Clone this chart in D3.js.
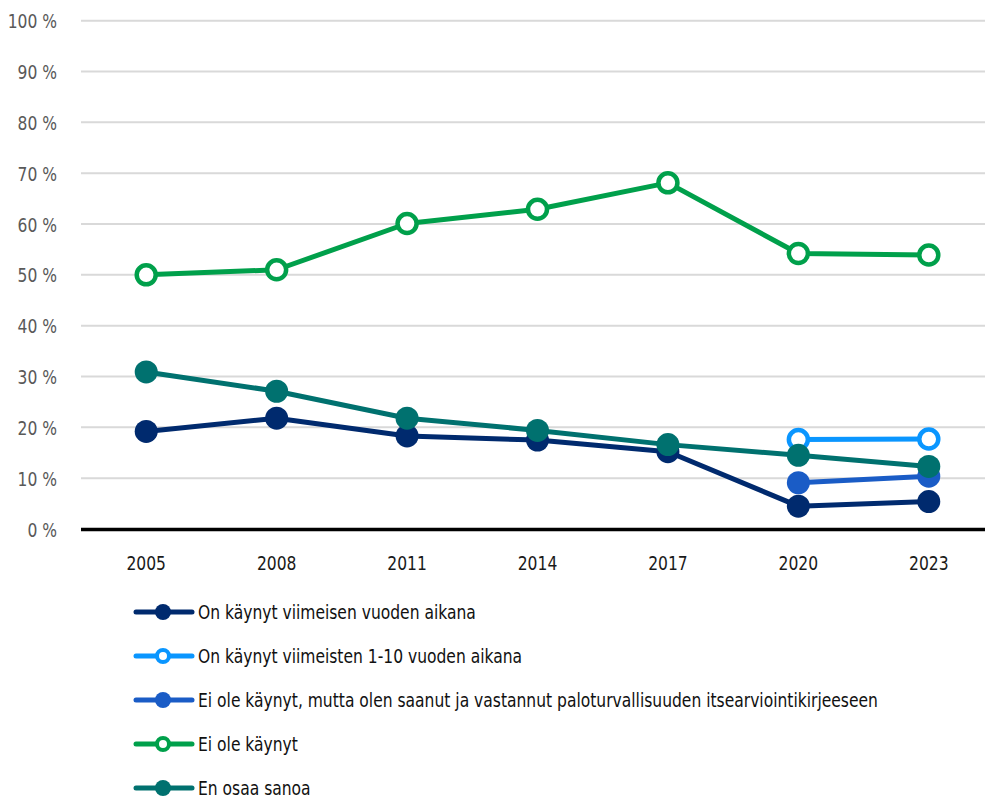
<!DOCTYPE html>
<html>
<head>
<meta charset="utf-8">
<script src="https://cdnjs.cloudflare.com/ajax/libs/d3/7.8.5/d3.min.js"></script>
<style>
  body { margin: 0; background: #fff; }
  svg text { font-family: "DejaVu Sans", sans-serif; font-stretch: condensed; }
</style>
</head>
<body>
<div class="chart-container"></div>
<script>
var w = 985;
var h = 799;
var squeeze = "scale(0.864,1)"; // narrow the text a bit more, the original font is condensed

var years = ["2005", "2008", "2011", "2014", "2017", "2020", "2023"];
var yTicks = [0, 10, 20, 30, 40, 50, 60, 70, 80, 90, 100];

// values in %, null = not asked that year
var viimeisenVuoden = [19.2, 21.8, 18.3, 17.5, 15.2, 4.5, 5.4];
var viimeisten1to10 = [null, null, null, null, null, 17.6, 17.7];
var itsearviointi   = [null, null, null, null, null, 9.1, 10.4];
var eiOleKaynyt     = [50.0, 51.0, 60.1, 62.9, 68.1, 54.2, 53.9];
var enOsaaSanoa     = [30.9, 27.1, 21.8, 19.4, 16.6, 14.5, 12.3];

var seriesNames = [
  "On käynyt viimeisen vuoden aikana",
  "On käynyt viimeisten 1-10 vuoden aikana",
  "Ei ole käynyt, mutta olen saanut ja vastannut paloturvallisuuden itsearviointikirjeeseen",
  "Ei ole käynyt",
  "En osaa sanoa"
];
var seriesColors = ["#002a6e", "#0a96ff", "#1a5cc6", "#00a04b", "#00716f"];
var seriesHollow = [false, true, false, true, false];

var series = [viimeisenVuoden, viimeisten1to10, itsearviointi, eiOleKaynyt, enOsaaSanoa].map(function(vals, i) {
  return {
    name: seriesNames[i],
    color: seriesColors[i],
    hollow: seriesHollow[i],
    values: vals.map(function(v, j) { return { year: years[j], value: v }; })
  };
});

// drawing order: green, light blue, mid blue, navy, teal on top
var drawOrder = [3, 1, 2, 0, 4];

var plotLeft = 81, plotRight = 994, plotTop = 20.7, plotBottom = 529;

var xScale = d3.scaleBand()
  .domain(years)
  .range([plotLeft, plotRight]);

var yScale = d3.scaleLinear()
  .domain([0, 100])
  .range([plotBottom, plotTop]);

var svg = d3.select(".chart-container")
  .append("svg")
  .attr("width", w)
  .attr("height", h);

// gridlines
svg.append("g")
  .selectAll("line")
  .data(yTicks.filter(function(d) { return d > 0; }))
  .enter()
  .append("line")
  .attr("x1", plotLeft)
  .attr("x2", w)
  .attr("y1", function(d) { return yScale(d); })
  .attr("y2", function(d) { return yScale(d); })
  .attr("stroke", "#d9d9d9")
  .attr("stroke-width", 2);

// y axis labels
var yAxis = d3.axisLeft(yScale)
  .tickValues(yTicks)
  .tickSize(0)
  .tickPadding(0)
  .tickFormat(function(d) { return d + " %"; });

svg.append("g")
  .attr("transform", "translate(" + 57 + ",0)")
  .call(yAxis)
  .call(function(g) { g.select(".domain").remove(); })
  .selectAll("text")
    .attr("fill", "#595959")
    .attr("font-size", 20)
    .attr("dy", "0.35em")
    .attr("transform", squeeze);

// x axis labels
var xAxis = d3.axisBottom(xScale).tickSize(0).tickPadding(0);
svg.append("g")
  .attr("transform", "translate(0," + 570 + ")")
  .call(xAxis)
  .call(function(g) { g.select(".domain").remove(); })
  .selectAll("text")
    .attr("fill", "#1a1a1a")
    .attr("font-size", 20)
    .attr("dy", "0em")
    .attr("transform", squeeze);

// zero line
svg.append("line")
  .attr("x1", plotLeft)
  .attr("x2", w)
  .attr("y1", yScale(0) + 0.5)
  .attr("y2", yScale(0) + 0.5)
  .attr("stroke", "#000")
  .attr("stroke-width", 3.5);

var line = d3.line()
  .defined(function(d) { return d.value !== null; })
  .x(function(d) { return xScale(d.year) + xScale.bandwidth() / 2; })
  .y(function(d) { return yScale(d.value); });

drawOrder.forEach(function(i) {
  var s = series[i];
  var g = svg.append("g");
  g.append("path")
    .datum(s.values)
    .attr("fill", "none")
    .attr("stroke", s.color)
    .attr("stroke-width", 5)
    .attr("stroke-linejoin", "round")
    .attr("d", line);
  g.selectAll("circle")
    .data(s.values.filter(function(d) { return d.value !== null; }))
    .enter()
    .append("circle")
    .attr("cx", function(d) { return xScale(d.year) + xScale.bandwidth() / 2; })
    .attr("cy", function(d) { return yScale(d.value); })
    .attr("r", s.hollow ? 9.5 : 11.5)
    .attr("fill", s.hollow ? "#fff" : s.color)
    .attr("stroke", s.hollow ? s.color : "none")
    .attr("stroke-width", s.hollow ? 4.5 : 0);
});

// legend
var legend = svg.append("g")
  .selectAll("g")
  .data(series)
  .enter()
  .append("g")
  .attr("transform", function(d, i) { return "translate(136," + (612 + i * 44) + ")"; });

legend.append("line")
  .attr("x1", 0)
  .attr("x2", 56)
  .attr("stroke", function(d) { return d.color; })
  .attr("stroke-width", 5)
  .attr("stroke-linecap", "round");

legend.append("circle")
  .attr("cx", 27)
  .attr("r", function(d) { return d.hollow ? 6 : 8; })
  .attr("fill", function(d) { return d.hollow ? "#fff" : d.color; })
  .attr("stroke", function(d) { return d.hollow ? d.color : "none"; })
  .attr("stroke-width", 4);

legend.append("g")
  .attr("transform", "translate(62,0)")
  .append("text")
  .attr("dy", "0.35em")
  .attr("font-size", 20)
  .attr("fill", "#111")
  .attr("transform", squeeze)
  .text(function(d) { return d.name; });
</script>
</body>
</html>
